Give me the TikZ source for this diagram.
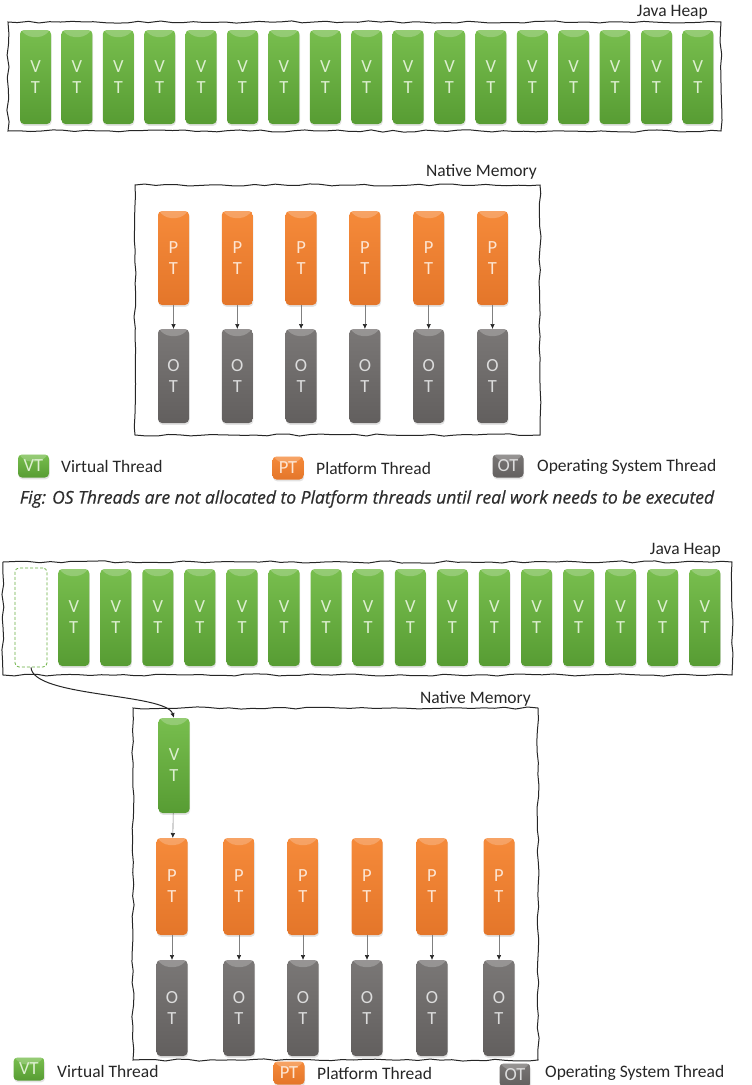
\documentclass[tikz,border=0pt]{standalone}
\usepackage{fontspec}
\setmainfont{Carlito}
\newfontfamily\capfont{Open Sans}[FakeBold=0.6]
\usetikzlibrary{decorations.pathmorphing,shadows,calc,arrows.meta}
\definecolor{vtg}{HTML}{66AE3E}
\definecolor{vttop}{HTML}{78BE4E}
\definecolor{vtbot}{HTML}{579C33}
\definecolor{vttxt}{HTML}{DDEFD0}
\definecolor{pttop}{HTML}{F58A3A}
\definecolor{ptbot}{HTML}{E4762A}
\definecolor{pttxt}{HTML}{FDE5D2}
\definecolor{ottop}{HTML}{7A7776}
\definecolor{otbot}{HTML}{625F5E}
\definecolor{ottxt}{HTML}{DCDCDC}
\pgfmathsetseed{7}
\begin{document}
\begin{tikzpicture}[x=1pt,y=-1pt,
  blk/.style={rounded corners=4pt, inner sep=0pt, outer sep=0pt, minimum width=31pt, align=center,
    font=\fontsize{18.5}{21}\selectfont,
    drop shadow={opacity=0.22,shadow xshift=0.6pt,shadow yshift=-1.8pt},
    path picture={\fill[white,opacity=0.22] (path picture bounding box.north west) -- (path picture bounding box.north east) -- ([xshift=-9pt,yshift=-7pt]path picture bounding box.north east) -- ([xshift=9pt,yshift=-7pt]path picture bounding box.north west) -- cycle;}},
  vt/.style={blk, top color=vttop, bottom color=vtbot, text=vttxt},
  pt/.style={blk, top color=pttop, bottom color=ptbot, text=pttxt},
  ot/.style={blk, top color=ottop, bottom color=otbot, text=ottxt},
  ico/.style={minimum width=31pt, minimum height=23pt, font=\fontsize{9}{10}\selectfont, rounded corners=3pt},
  handbox/.style={draw=black!85, line width=1pt, inner sep=0pt, outer sep=0pt, decorate,
    decoration={random steps, segment length=11pt, amplitude=1.1pt}},
  lbl/.style={inner sep=0pt, font=\fontsize{17.5}{20}\selectfont, text=black!85},
  conn/.style={draw=black!50, line width=0.6pt, -{Latex[length=5pt,width=4.5pt,color=black!85]}},
]
\useasboundingbox (0,0) rectangle (752,1085);

% ---------- top part ----------
\node[handbox, minimum width=713pt, minimum height=109pt] (heapA) at (364.5,76.5) {};
\node[lbl, anchor=base east] (jhA) at (708,16) {Java Heap};
\foreach \i in {0,...,16}
  \node[vt, minimum height=94pt] (ha\i) at ({35.5+41.4*\i},77) {V\\T};

\node[handbox, minimum width=405pt, minimum height=250pt] (natA) at (337.5,310) {};
\node[lbl, anchor=base east] (nmA) at (537,176) {Native Memory};
\foreach \i in {0,...,5} {
  \node[pt, minimum height=94pt] (pa\i) at ({173.5+63.8*\i},258) {P\\T};
  \node[ot, minimum height=94pt] (oa\i) at ({173.5+63.8*\i},376) {O\\T};
  \draw[conn] (pa\i) -- (oa\i);
}

\node[ico, vt] (livA) at (33.5,466) {VT};
\node[lbl, anchor=west] (ltvA) at (61,466) {Virtual Thread};
\node[ico, pt] (lipA) at (288,468) {PT};
\node[lbl, anchor=west] (ltpA) at (316,468) {Platform Thread};
\node[ico, ot] (lioA) at (508,466) {OT};
\node[lbl, anchor=west] (ltoA) at (537,467) {Operating System Thread};

\node[inner sep=0pt, font=\capfont\itshape\fontsize{17.5}{20}\selectfont, text=black!82] (cap) at (367,499)
  {Fig: OS Threads are not allocated to Platform threads until real work needs to be executed};

% ---------- bottom part ----------
\node[handbox, minimum width=729pt, minimum height=113pt] (heapB) at (367.5,618.5) {};
\node[lbl, anchor=base east] (jhB) at (721,554) {Java Heap};
\node[draw=vtg, line width=0.8pt, dash pattern=on 3pt off 2pt, rounded corners=4pt,
  minimum width=32pt, minimum height=99pt, inner sep=0pt] (dash) at (31,617.5) {};
\foreach \i in {0,...,15}
  \node[vt, minimum height=97pt] (hb\i) at ({73.75+42.07*\i},617.5) {V\\T};

\node[handbox, minimum width=405pt, minimum height=352pt] (natB) at (335.5,884) {};
\node[lbl, anchor=base east] (nmB) at (531,703) {Native Memory};
\node[vt, minimum height=95pt] (nvt) at (174,765.5) {V\\T};
\foreach \x [count=\i from 0] in {172,239,303,367,432,499} {
  \node[pt, minimum height=97pt] (pb\i) at (\x,886.5) {P\\T};
  \node[ot, minimum height=96pt] (ob\i) at (\x,1008) {O\\T};
  \draw[conn] (pb\i) -- (ob\i);
}
\draw[conn] (nvt) -- (pb0);
\draw[conn, draw=black!85, line width=1pt] (dash.south) .. controls ($(dash.south)+(2,30)$) and ($(nvt.north)+(-8,-25)$) .. (nvt.north);

\node[ico, vt] (livB) at (29,1069) {VT};
\node[lbl, anchor=west] (ltvB) at (57,1071) {Virtual Thread};
\node[ico, pt] (lipB) at (289,1073) {PT};
\node[lbl, anchor=west] (ltpB) at (317,1073) {Platform Thread};
\node[ico, ot] (lioB) at (515,1075) {OT};
\node[lbl, anchor=west] (ltoB) at (545,1073) {Operating System Thread};
\end{tikzpicture}
\end{document}
